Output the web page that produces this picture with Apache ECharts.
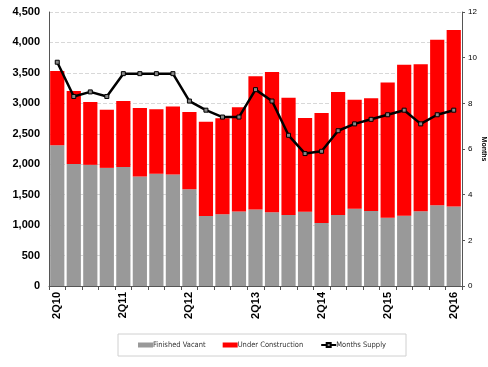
<!DOCTYPE html>
<html><head><meta charset="utf-8">
<script src="https://cdn.jsdelivr.net/npm/echarts@6/dist/echarts.min.js"></script>
<style>html,body{margin:0;padding:0;background:#fff}#c{width:488px;height:367px}</style>
</head><body><div id="c"></div>
<script>
const categories = ['2Q10','3Q10','4Q10','1Q11','2Q11','3Q11','4Q11','1Q12','2Q12','3Q12','4Q12','1Q13','2Q13','3Q13','4Q13','1Q14','2Q14','3Q14','4Q14','1Q15','2Q15','3Q15','4Q15','1Q16','2Q16'];
const finishedVacant = [2310,2005,1990,1940,1955,1800,1845,1830,1590,1150,1178,1222,1258,1212,1168,1220,1035,1168,1270,1232,1122,1155,1226,1325,1305];
const totalInventory = [3530,3202,3022,2895,3038,2923,2901,2950,2857,2698,2753,2934,3443,3514,3092,2759,2841,3186,3059,3082,3344,3634,3640,4045,4204];
const underConstruction = totalInventory.map((t, i) => t - finishedVacant[i]);
const monthsSupply = [9.8,8.3,8.5,8.3,9.3,9.3,9.3,9.3,8.1,7.7,7.4,7.4,8.6,8.1,6.6,5.8,5.9,6.8,7.1,7.3,7.5,7.7,7.1,7.5,7.7];
const leftTicks = [0,500,1000,1500,2000,2500,3000,3500,4000,4500];

const chart = echarts.init(document.getElementById('c'));
chart.setOption({
  animation: false,
  textStyle: { fontFamily: 'Liberation Sans, Arial, sans-serif' },
  grid: { left: 49, right: 26, top: 12, bottom: 81, containLabel: false, outerBoundsMode: 'none' },
  legend: {
    left: 118, top: 334,
    padding: [7, 20, 7, 20],
    itemGap: 17,
    itemWidth: 15, itemHeight: 5,
    borderColor: '#d0d0d0', borderWidth: 1,
    textStyle: { fontSize: 7.5, color: '#333', fontFamily: 'Liberation Sans Narrow, Arial Narrow, DejaVu Sans Condensed, Liberation Sans, sans-serif', padding: [0,0,0,-5] },
    data: [
      { name: 'Finished Vacant', icon: 'rect' },
      { name: 'Under Construction', icon: 'rect' },
      { name: 'Months Supply' }
    ]
  },
  xAxis: {
    type: 'category',
    data: categories,
    axisLine: { lineStyle: { color: '#555', width: 1 } },
    axisTick: { show: true, alignWithLabel: false, interval: 0, length: 4, lineStyle: { color: '#555' } },
    axisLabel: { interval: 3, rotate: 90, fontSize: 11, fontWeight: 'bold', color: '#000', margin: 6 }
  },
  yAxis: [
    {
      type: 'value', min: 0, max: 4500, interval: 500,
      axisLine: { show: true, lineStyle: { color: '#555' } },
      axisTick: { show: false },
      axisLabel: { fontSize: 11, fontWeight: 'bold', color: '#000', margin: 9,
        formatter: v => v.toLocaleString('en-US') },
      splitLine: { lineStyle: { color: '#d8d8d8', type: 'dashed', width: 1 } }
    },
    {
      type: 'value', min: 0, max: 12, interval: 2, position: 'right',
      name: 'Months', nameLocation: 'middle', nameRotate: -90, nameGap: 18, nameMoveOverlap: false,
      nameTextStyle: { fontSize: 7, fontWeight: 'bold', color: '#000' },
      axisLine: { show: true, lineStyle: { color: '#555' } },
      axisTick: { show: true, length: 3, lineStyle: { color: '#555' } },
      axisLabel: { fontSize: 8, color: '#000', margin: 6 },
      splitLine: { show: false }
    }
  ],
  series: [
    { name: 'Finished Vacant', type: 'bar', stack: 'inv', data: finishedVacant,
      barCategoryGap: '14%', itemStyle: { color: '#999999' } },
    { name: 'Under Construction', type: 'bar', stack: 'inv', data: underConstruction,
      itemStyle: { color: '#ff0000' } },
    { name: 'Months Supply', type: 'line', yAxisIndex: 1, data: monthsSupply,
      symbol: 'rect', symbolSize: 4, showAllSymbol: true,
      lineStyle: { color: '#000', width: 2.5 },
      itemStyle: { color: '#888', borderColor: '#000', borderWidth: 1 } }
  ]
});
</script>
</body></html>
